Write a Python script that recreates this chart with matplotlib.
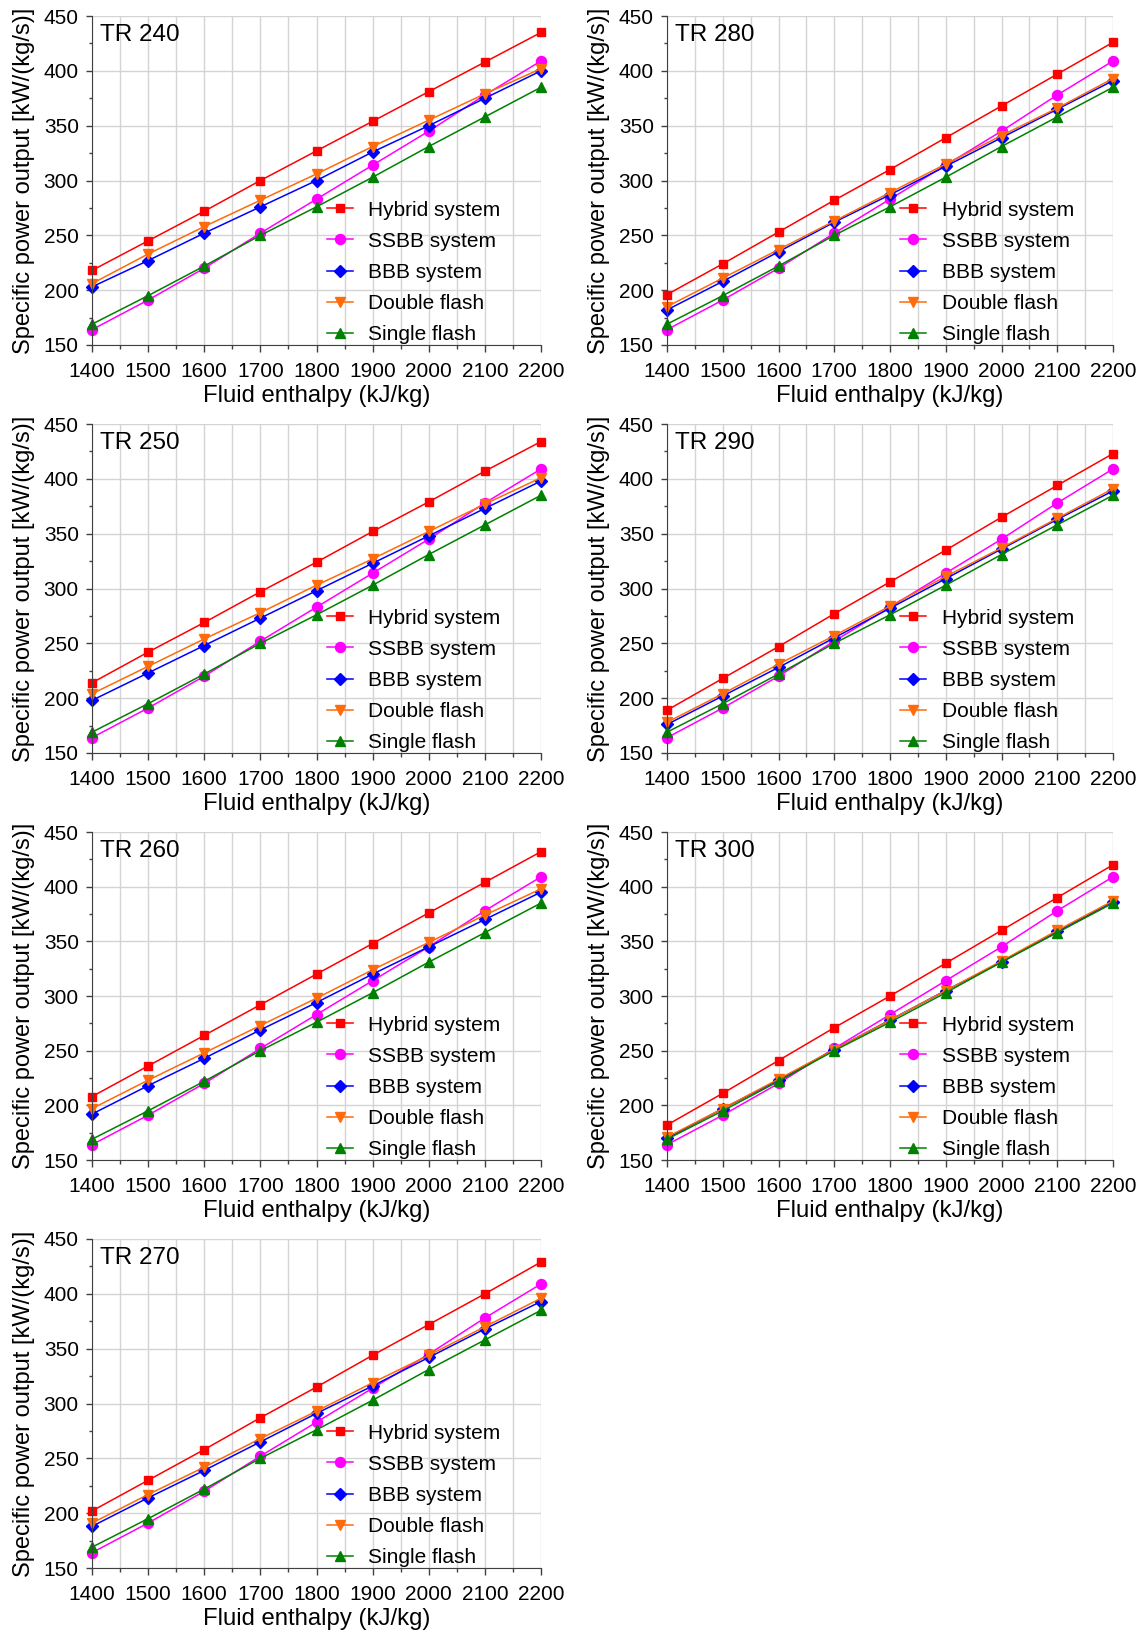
import numpy as np
import matplotlib
matplotlib.use("Agg")
import matplotlib.pyplot as plt
from matplotlib.ticker import MultipleLocator

plt.rcParams['font.family'] = ['Liberation Sans', 'DejaVu Sans']
plt.rcParams['font.size'] = 15

# fluid enthalpy (kJ/kg)
enthalpy = [1400, 1500, 1600, 1700, 1800, 1900, 2000, 2100, 2200]

# series that do not change with TR
ssbb = [164, 191, 220, 252, 283, 314, 345, 378, 409]
single_flash = [169, 195, 222, 250, 276, 303, 331, 358, 385]

# TR dependent series
tr_values = [240, 250, 260, 270, 280, 290, 300]
hybrid = {
    240: [218, 245, 272, 300, 327, 354, 381, 408, 435],
    250: [214, 242, 269, 297, 324, 352, 379, 407, 434],
    260: [208, 236, 264, 292, 320, 348, 376, 404, 432],
    270: [202, 230, 258, 287, 315, 344, 372, 400, 429],
    280: [196, 224, 253, 282, 310, 339, 368, 397, 426],
    290: [189, 218, 247, 277, 306, 335, 365, 394, 423],
    300: [182, 211, 241, 271, 300, 330, 360, 390, 420],
}
bbb = {
    240: [203, 227, 252, 276, 300, 326, 350, 375, 400],
    250: [198, 223, 248, 273, 298, 323, 348, 373, 398],
    260: [192, 218, 243, 269, 294, 320, 345, 370, 395],
    270: [188, 214, 239, 265, 291, 316, 342, 368, 393],
    280: [182, 208, 235, 262, 287, 313, 339, 365, 391],
    290: [176, 202, 228, 255, 282, 309, 336, 363, 389],
    300: [170, 197, 223, 251, 278, 305, 331, 359, 386],
}
double_flash = {
    240: [206, 233, 258, 282, 306, 331, 355, 379, 402],
    250: [204, 229, 254, 278, 303, 327, 352, 377, 401],
    260: [197, 223, 248, 273, 298, 324, 349, 374, 398],
    270: [191, 217, 242, 268, 293, 319, 344, 370, 396],
    280: [185, 211, 237, 263, 289, 315, 341, 366, 393],
    290: [178, 204, 231, 257, 284, 311, 337, 364, 391],
    300: [171, 197, 224, 251, 278, 305, 332, 360, 387],
}

W, H = 1147, 1634
fig = plt.figure(figsize=(W / 100, H / 100), dpi=100)

# panel boxes in pixels (left, right), (top, bottom)
cols = [(92, 541), (667, 1113)]
rows = [(16, 345), (424, 753), (832, 1160), (1239, 1568)]
# column-wise order of panels
slots = [(0, 0), (0, 1), (0, 2), (0, 3), (1, 0), (1, 1), (1, 2)]

grid_col = '#d4d4d4'
axis_col = '#404040'


def draw_panel(ax, tr):
    kw = dict(lw=1.1, clip_on=False)
    ax.plot(enthalpy, hybrid[tr], color='#ff0000', marker='s', ms=6, label='Hybrid system', **kw)
    ax.plot(enthalpy, ssbb, color='#ff00ff', marker='o', ms=7.2, label='SSBB system', **kw)
    ax.plot(enthalpy, bbb[tr], color='#0000ff', marker='D', ms=6, label='BBB system', **kw)
    ax.plot(enthalpy, double_flash[tr], color='#ff6a0a', marker='v', ms=7.5, label='Double flash', **kw)
    ax.plot(enthalpy, single_flash, color='#008000', marker='^', ms=7.5, label='Single flash', **kw)

    ax.set_xlim(1400, 2200)
    ax.set_ylim(150, 450)
    ax.xaxis.set_major_locator(MultipleLocator(100))
    ax.xaxis.set_minor_locator(MultipleLocator(50))
    ax.yaxis.set_major_locator(MultipleLocator(50))
    ax.yaxis.set_minor_locator(MultipleLocator(25))
    ax.grid(which='major', color=grid_col, lw=1)
    ax.grid(which='minor', axis='x', color=grid_col, lw=1)
    ax.set_axisbelow(True)
    for s in ['top', 'right']:
        ax.spines[s].set_visible(False)
    for s in ['left', 'bottom']:
        ax.spines[s].set_color(axis_col)
    ax.tick_params(which='both', color=axis_col, width=1)
    ax.tick_params(axis='x', which='major', length=5, pad=7)
    ax.tick_params(axis='x', which='minor', length=3)
    ax.tick_params(axis='y', which='major', length=4.5, pad=5)
    ax.tick_params(axis='y', which='minor', length=2.2)

    ax.set_xlabel('Fluid enthalpy (kJ/kg)', fontsize=17.2, labelpad=3)
    ax.set_ylabel('Specific power output [kW/(kg/s)]', fontsize=17, labelpad=6)
    ax.text(0.018, 0.942, f'TR {tr}', transform=ax.transAxes, va='center', ha='left', fontsize=17.5)
    ax.legend(loc='lower left', bbox_to_anchor=(0.523, 0.003), frameon=False,
              borderpad=0, borderaxespad=0, handlelength=1.25, handletextpad=0.75,
              labelspacing=0.58, fontsize=15)


for tr, (c, r) in zip(tr_values, slots):
    x0, x1 = cols[c]
    y0, y1 = rows[r]
    ax = fig.add_axes([x0 / W, 1 - y1 / H, (x1 - x0) / W, (y1 - y0) / H])
    draw_panel(ax, tr)

fig.savefig('out.png', dpi=100)
